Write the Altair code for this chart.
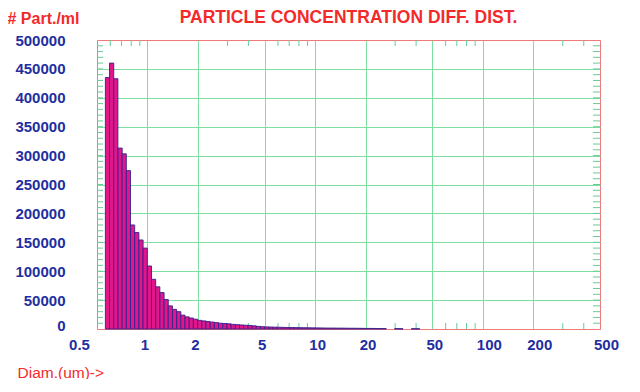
import altair as alt
import pandas as pd

# channel lower edges (um), 40 channels per decade
channel_lo = [0.561, 0.594, 0.629, 0.667, 0.706, 0.748, 0.792, 0.839, 0.889, 0.942,
              0.998, 1.057, 1.119, 1.186, 1.256, 1.330, 1.409, 1.493, 1.581, 1.675,
              1.774, 1.879, 1.991, 2.109, 2.233, 2.366, 2.506, 2.654, 2.812, 2.978,
              3.155, 3.342, 3.540, 3.749, 3.972, 4.207, 4.456, 4.720, 5.000, 5.296,
              5.610, 5.943, 6.295, 6.668, 7.063, 7.481, 7.924, 8.394, 8.891, 9.418,
              9.976, 10.57, 11.19, 11.86, 12.56, 13.30, 14.09, 14.93, 15.81, 16.75,
              17.74, 18.79, 19.91, 21.09, 22.33, 23.66, 25.06, 26.54, 28.12, 29.78,
              31.55, 33.42, 35.40, 37.49, 39.72]
channel_ratio = 1.05925

# particles / ml per channel
counts = [435000, 460000, 433000, 313000, 303000, 274000, 180000, 167000, 154000, 140000,
          109000, 86000, 73000, 63000, 51000, 40000, 34000, 30000, 24000, 21000,
          19000, 17000, 15000, 14000, 13000, 12000, 11000, 10000, 9500, 9000,
          8000, 7500, 7000, 6500, 6000, 5500, 4500, 4000, 3600, 3400,
          3200, 3000, 2800, 2600, 2500, 2400, 2300, 2200, 2100, 2000,
          1900, 1800, 1700, 1600, 1600, 1500, 1500, 1400, 1300, 1300,
          1200, 1100, 1000, 1000, 900, 800, 700, 0, 0, 600,
          500, 0, 0, 500, 400]

x_ticks = [0.5, 1, 2, 5, 10, 20, 50, 100, 200, 500]
x_minor = [0.6, 0.7, 0.8, 0.9, 3, 4, 6, 7, 8, 9, 30, 40, 60, 70, 80, 90, 300, 400]
y_ticks = list(range(0, 500001, 50000))
y_minor = list(range(10000, 500000, 10000))

W, H = 503, 289
RED = "#f42a2a"
BLUE = "#1f2ea0"
GREEN = "#7ddfa0"
FRAME = "#f07a7a"
FONT = "Liberation Sans"

df = pd.DataFrame({"lo": channel_lo, "value": counts})
df["hi"] = df["lo"] * channel_ratio
df = df[df["value"] > 0]

xscale = alt.Scale(type="log", domain=[0.5, 500], nice=False)
yscale = alt.Scale(domain=[0, 500000], nice=False, zero=False)

x_axis = alt.Axis(
    values=x_ticks, grid=True, gridWidth=1,
    gridColor={"condition": {"test": "datum.value == 0.5 || datum.value == 500",
                             "value": FRAME}, "value": GREEN},
    domain=False, ticks=False, labelFont=FONT, labelFontSize=15,
    labelFontWeight="bold", labelColor=BLUE, labelPadding=8,
    labelFlush=False, labelOverlap=False,
    labelExpr="datum.value",
    labelOffset={"condition": [
        {"test": "datum.value == 0.5", "value": -18},
        {"test": "datum.value <= 5", "value": -3},
        {"test": "datum.value >= 100", "value": 6}], "value": 2},
    title="Diam.(um)->", titleFont=FONT, titleFontSize=15.5,
    titleFontWeight="normal", titleColor=RED, titleAlign="left",
    titleBaseline="middle", titleX=-80, titleY=43, titleAnchor="start")

y_axis = alt.Axis(
    values=y_ticks, grid=True, gridWidth=1,
    gridColor={"condition": {"test": "datum.value == 0 || datum.value == 500000",
                             "value": FRAME}, "value": GREEN},
    domain=False, ticks=False, format="d", labelFont=FONT,
    labelFontSize=15, labelFontWeight="bold", labelColor=BLUE,
    labelPadding=32, labelFlush=False, labelOverlap=False,
    labelOffset={"condition": {"test": "datum.value == 0", "value": -4}, "value": 0},
    title="# Part./ml", titleFont=FONT, titleFontSize=16,
    titleFontWeight="bold", titleColor=RED, titleAngle=0,
    titleAlign="left", titleBaseline="middle", titleX=-90, titleY=-22)

bars = alt.Chart(df).mark_rect(
    fill="#e0168a", stroke="#35208f", strokeWidth=0.9
).encode(
    x=alt.X("lo:Q", scale=xscale, axis=x_axis),
    x2="hi:Q",
    y=alt.Y("value:Q", scale=yscale, axis=y_axis),
)

tick_color = "#66cc99"
ydf = pd.DataFrame({"t": y_minor})
xdf = pd.DataFrame({"t": x_minor})

left_ticks = alt.Chart(ydf).mark_rule(color=tick_color, strokeWidth=1).encode(
    y=alt.Y("t:Q", scale=yscale, axis=y_axis), x=alt.value(0), x2=alt.value(6))
right_ticks = alt.Chart(ydf).mark_rule(color=tick_color, strokeWidth=1).encode(
    y=alt.Y("t:Q", scale=yscale, axis=y_axis), x=alt.value(W - 7), x2=alt.value(W))
top_ticks = alt.Chart(xdf).mark_rule(color=tick_color, strokeWidth=1).encode(
    x=alt.X("t:Q", scale=xscale, axis=x_axis), y=alt.value(0), y2=alt.value(6))
bottom_ticks = alt.Chart(xdf).mark_rule(color=tick_color, strokeWidth=1).encode(
    x=alt.X("t:Q", scale=xscale, axis=x_axis), y=alt.value(H - 6), y2=alt.value(H))

chart = alt.layer(left_ticks, right_ticks, top_ticks, bottom_ticks, bars).properties(
    width=W, height=H,
    title=alt.Title("PARTICLE CONCENTRATION DIFF. DIST.", font=FONT, fontSize=17.5,
                    fontWeight="bold", color=RED, anchor="middle", offset=13, dy=29),
    autosize=alt.AutoSizeParams(type="none"),
    padding={"left": 89, "top": 32, "right": 32, "bottom": 50},
).configure_view(
    stroke=FRAME, strokeWidth=1
).configure(background="white")

chart.save("out.html", embed_options={"renderer": "svg", "actions": False})
